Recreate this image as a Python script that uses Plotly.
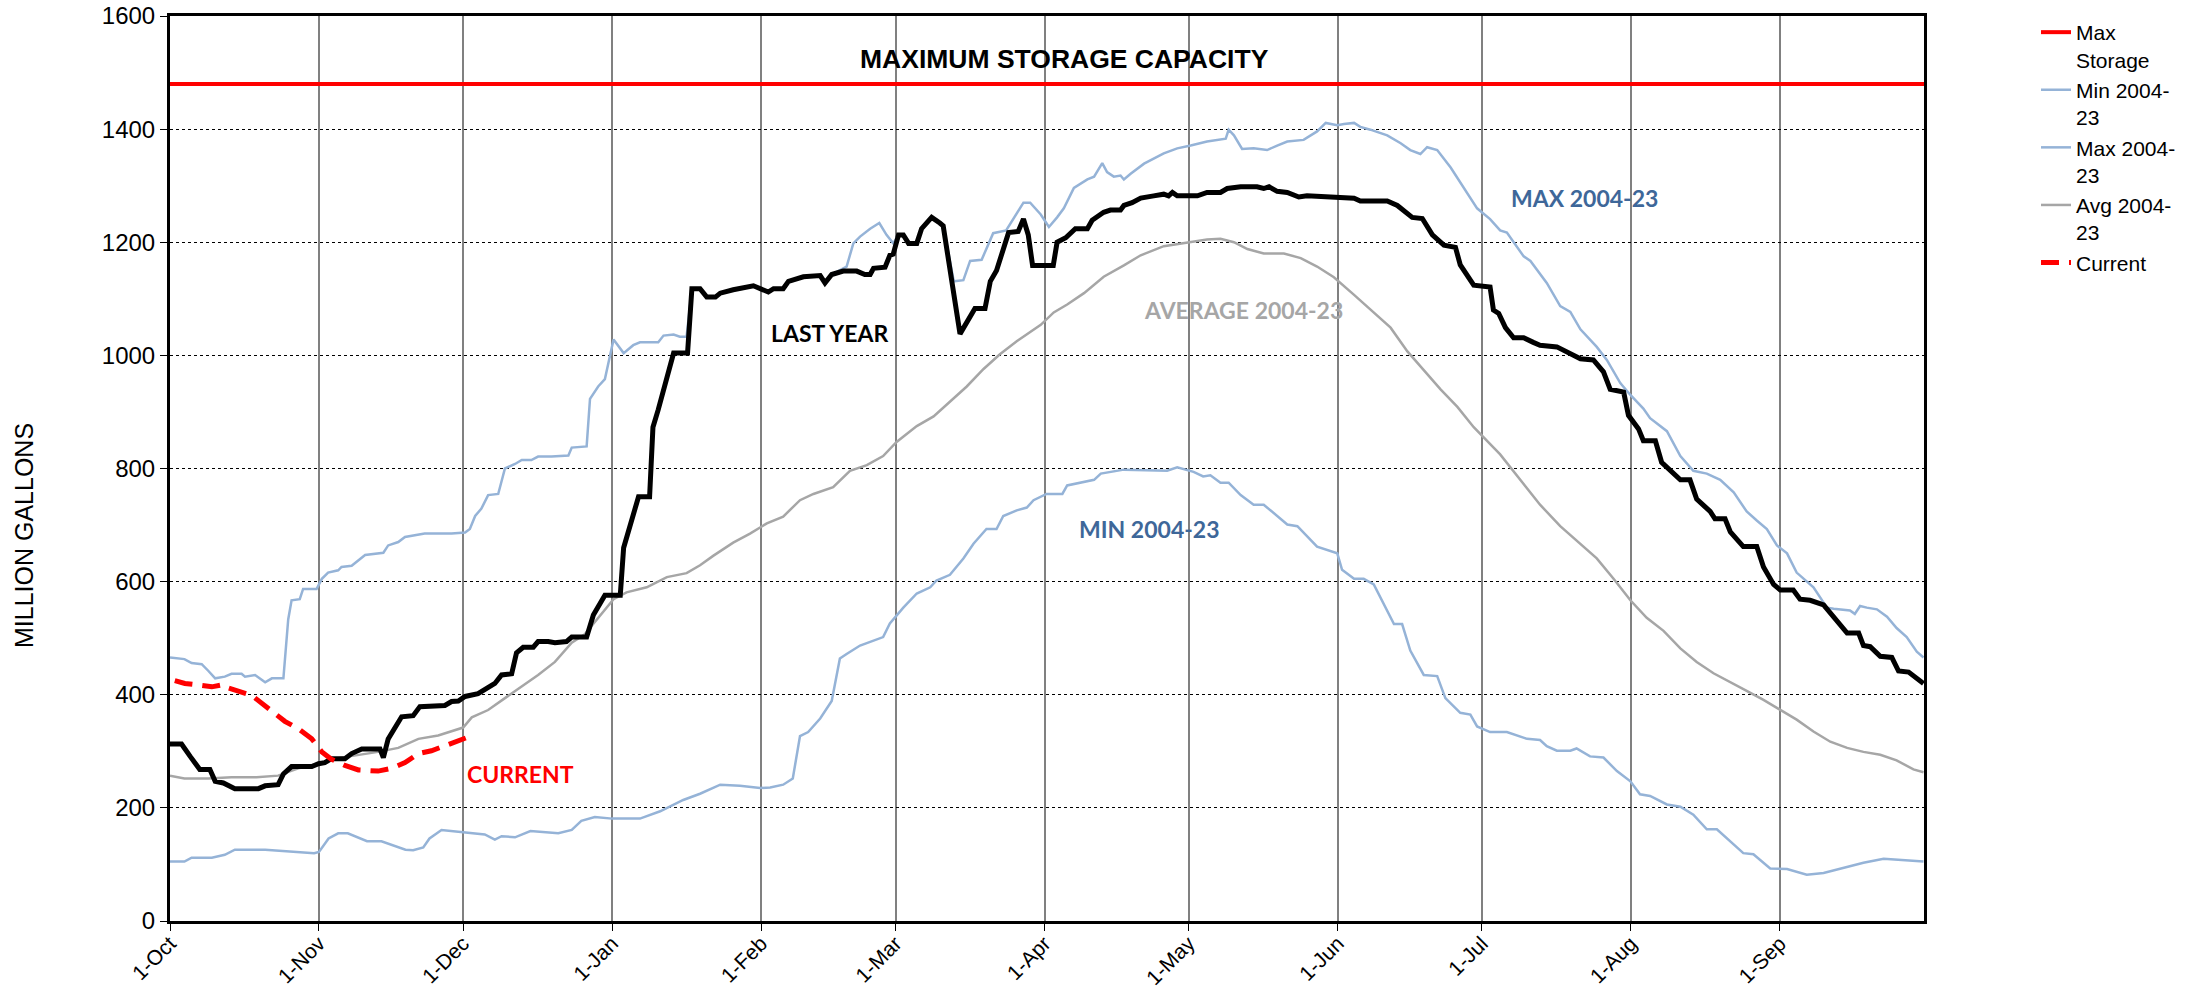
import plotly.graph_objects as go

# x positions are days since 1-Oct (water year)
month_days = [0, 31, 61, 92, 123, 151, 182, 212, 243, 273, 304, 335]
month_labels = ["1-Oct", "1-Nov", "1-Dec", "1-Jan", "1-Feb", "1-Mar", "1-Apr",
                "1-May", "1-Jun", "1-Jul", "1-Aug", "1-Sep"]

max_storage = 1480

min_pts = [(0,105),(3,105),(4.5,112),(8.7,112),(11.4,117),(13.5,126),(19.8,126),(24.6,123),(30,120),(31,122),
 (33,146),(35,155),(37,155),(41,141),(44,141),(49,126),(50.6,125),(52.7,130),(54,146),(56.5,161),(61,157),
 (65.5,153),(67.6,144),(69,150),(71.8,148),(75,159),(80.8,155),(83.6,161),(85.6,177),(88.4,184),(92,181),
 (97.8,181),(102,194),(106.8,214),(110.3,225),(114.5,241),(118.6,239),(122.8,235),(124.9,236),(127.6,241),
 (129.6,252),(131.1,327),(132.8,334),(135.3,358),(137.7,389),(139.4,464),(140.8,472),(143.6,487),(148.4,502),
 (149.8,526),(152.6,554),(155.4,579),(158.2,590),(159.5,602),(162.3,612),(165.1,641),(167.2,667),(169.9,693),
 (172,693),(173.4,716),(176.2,726),(178.3,731),(179.7,744),(182.4,755),(185.7,755),(186.7,770),(192.3,780),
 (193.7,791),(198.5,798),(207.5,796),(209.6,802),(213,794),(215,786),(216.5,788),(218.6,775),(220.3,775),
 (222.8,753),(225.5,736),(227.6,736),(232.5,701),(234.6,698),(238.7,662),(242.9,650),(243.9,621),(246.4,605),
 (248.4,605),(250.5,595),(252.6,559),(254.7,525),(256.4,525),(258.1,478),(260.9,435),(263.7,433),(265.4,394),
 (268.5,368),(270.6,365),(272,344),(274.7,334),(278.2,334),(282.4,322),(285.1,320),(286.5,309),(288.6,301),
 (291.4,301),(292.7,305),(295.5,291),(298.3,289),(301.1,265),(303.9,247),(305.9,224),(308,221),(311.5,206),
 (314.3,202),(317,188),(319.8,162),(321.9,162),(324.7,141),(327.4,120),(329.5,118),(333,93),(336.5,92),
 (340.6,82),(344.1,85),(349,95),(352.4,103),(356.6,110),(360,108),(364.9,105)]

max_pts = [(0,466),(3,463),(4.5,456),(6.6,454),(8,442),(9.4,429),(11.4,432),(12.8,437),(14.9,437),(15.6,432),
 (17.7,435),(19.8,422),(21.2,429),(23.6,429),(24.6,533),(25.3,567),(27,569),(27.7,587),(30.5,587),(31.6,605),
 (32.9,616),(35,620),(35.7,626),(37.8,628),(40.6,647),(44.4,651),(45.4,664),(47.5,670),(48.9,679),(51.7,683),
 (53,685),(58.6,685),(61.4,687),(62.4,693),(63.5,716),(64.8,729),(66.2,753),(68.3,755),(69.7,800),(71.8,808),
 (73.2,815),(75.2,815),(76.6,821),(79.4,821),(82.9,823),(83.6,837),(86.7,839),(87.4,923),(89.1,945),(90.5,958),
 (92.3,1028),(94.4,1004),(96.4,1018),(97.8,1023),(101.6,1023),(102.7,1035),(104.8,1037),(106.1,1033),(107.5,1033),
 (108.6,1118),(110.3,1118),(111.7,1103),(113.5,1103),(114.5,1110),(117.2,1116),(118.6,1119),(121.4,1123),
 (124.5,1112),(125.6,1118),(127.6,1118),(128.7,1131),(131.8,1139),(135.3,1141),(136.3,1128),(137.7,1143),
 (140.8,1157),(142.2,1198),(143.6,1210),(145.7,1224),(147.6,1234),(149.1,1213),(150.5,1198),(151.6,1213),
 (152.6,1213),(153.7,1198),(155.4,1198),(156.4,1224),(158.5,1244),(160.2,1234),(160.9,1229),(163.1,1131),
 (165.1,1133),(166.5,1167),(168.9,1169),(171.3,1216),(174,1221),(177.6,1270),(179,1270),(181.2,1249),
 (182.9,1227),(184.6,1244),(186,1260),(188.1,1296),(190.9,1311),(192.3,1316),(194,1340),(195,1324),(196.4,1316),
 (197.8,1318),(198.5,1311),(199.9,1321),(202.7,1339),(206.8,1357),(209.6,1366),(212.4,1371),(215.8,1378),
 (219.7,1383),(220.3,1399),(221.4,1389),(223.1,1365),(225.5,1366),(228.3,1363),(230.4,1371),(232.5,1378),
 (235.9,1381),(238.7,1396),(240.5,1411),(242.9,1407),(244.3,1409),(246.4,1411),(247.7,1404),(249.8,1399),
 (253.3,1389),(256.1,1375),(258.1,1363),(260.2,1356),(261.6,1368),(263.7,1363),(266.5,1332),(269.2,1296),
 (272,1260),(274.7,1241),(276.8,1221),(278.2,1217),(281.7,1175),(283.1,1167),(286.5,1128),(289.3,1087),
 (291.4,1077),(293.5,1046),(296.9,1015),(299,992),(301.8,951),(303.9,930),(306.6,906),(308,889),(311.5,866),
 (314.3,822),(317,796),(319.8,791),(322.6,780),(325.4,758),(328.1,724),(330.2,708),(332.3,693),(334.4,664),
 (336.5,650),(338.5,616),(342,590),(344.8,554),(346.2,552),(349.6,549),(350.6,543),(351.7,557),(353.1,554),
 (355.2,551),(357.3,538),(359.3,518),(361.4,502),(363.5,476),(364.9,466)]

avg_pts = [(0,257),(3,252),(8,252),(12.8,254),(18,254),(22.5,257),(26.7,270),(30.9,278),(35,288),(39.2,293),
 (43.3,299),(47.5,306),(51.7,322),(55.8,328),(58.6,335),(61,342),(62.8,360),(66.2,373),(69.7,394),(73.2,414),
 (76.6,435),(80.1,458),(83.6,492),(86.3,507),(89.1,535),(92.3,569),(95,581),(99.2,590),(103.4,608),(107.5,615),
 (110.3,629),(113.1,646),(117.2,669),(120.7,685),(124.2,703),(127.6,715),(131.1,744),(133.9,755),(138,767),
 (141.5,796),(145,806),(148.4,822),(151.2,847),(155.4,875),(158.9,892),(162.3,918),(165.8,945),(169.3,976),
 (172.7,1002),(176.2,1025),(179.7,1045),(181.2,1054),(183.9,1076),(186.7,1090),(190.2,1110),(194.3,1139),
 (198.5,1159),(202,1177),(206.8,1193),(211.7,1200),(215.8,1205),(218.6,1206),(221.4,1200),(224.2,1188),
 (227.6,1180),(231.8,1180),(235.3,1172),(238.7,1157),(242.2,1138),(246.4,1107),(250.5,1076),(254,1049),
 (257.5,1007),(260.9,973),(264.4,940),(267.9,909),(271.3,873),(276.8,825),(281,780),(285.1,736),(289.3,698),
 (293.5,667),(296.9,641),(300.4,605),(303.9,567),(307.3,536),(310.8,513),(314.3,482),(317.7,458),(321.2,438),
 (324.7,423),(328.1,407),(331.6,391),(335.1,373),(338.5,356),(342,335),(345.5,317),(349,306),(352.4,299),
 (355.9,294),(359.3,284),(362.8,268),(364.9,263)]

last_year_pts = [(0,313),(2.4,313),(4.2,291),(6.2,268),(8.3,268),(9.4,247),(11.1,244),(13.5,234),(18.4,234),
 (19.8,239),(22.5,241),(23.6,260),(25.3,273),(29.5,273),(30.9,278),(32.2,280),(33.6,287),(36.4,287),(37.8,296),
 (39.9,304),(43.7,304),(44.4,289),(45.4,322),(46.8,340),(48.2,361),(50.6,363),(52,379),(57.2,381),(58.6,388),
 (60,389),(61.4,397),(64.1,402),(65.5,410),(67.6,420),(69,435),(71.1,437),(72.1,474),(73.5,484),(75.6,484),
 (76.6,494),(78.7,494),(80.1,492),(82.5,494),(83.6,502),(86.7,502),(88.1,541),(90.5,576),(93.7,576),(94.4,660),
 (95.7,698),(97.5,750),(99.8,750),(100.5,873),(101.6,904),(103,945),(104.8,1004),(107.7,1004),(108.6,1118),
 (110.3,1118),(111.7,1103),(113.5,1103),(114.5,1110),(117.2,1116),(118.6,1119),(121.4,1123),(124.5,1112),
 (125.6,1118),(127.6,1118),(128.7,1131),(131.8,1139),(135.3,1141),(136.3,1128),(137.7,1143),(140.1,1149),
 (142.9,1149),(144.6,1143),(145.7,1143),(146.4,1154),(148.8,1156),(149.8,1177),(150.5,1179),(151.6,1213),
 (152.6,1213),(153.7,1198),(155.4,1198),(156.4,1224),(158.5,1244),(160.2,1234),(160.9,1229),(164.4,1038),
 (167.5,1083),(169.6,1083),(170.7,1131),(172,1150),(174.5,1217),(176.5,1219),(177.6,1241),(178.6,1213),
 (179.5,1159),(183.8,1159),(184.6,1200),(186.4,1208),(188.4,1224),(190.9,1224),(191.9,1239),(194.3,1253),
 (195.7,1257),(197.8,1257),(198.5,1265),(200.2,1270),(202,1278),(204.7,1282),(206.8,1285),(207.8,1282),
 (208.6,1288),(209.6,1282),(213.8,1282),(215.8,1288),(218.6,1288),(220,1295),(222.8,1298),(226.2,1298),
 (227.6,1295),(228.7,1298),(230.4,1290),(232.5,1288),(234.9,1280),(236.6,1282),(240.8,1280),(246.4,1278),
 (247.7,1273),(253.3,1273),(255.4,1265),(258.5,1244),(260.6,1242),(262.7,1213),(265.1,1195),(267.5,1191),
 (268.5,1160),(271.3,1124),(274.7,1121),(275.4,1080),(276.5,1074),(277.9,1049),(279.6,1031),(281.7,1031),
 (283.7,1023),(285.1,1018),(288.6,1015),(291.4,1002),(293.5,994),(296.2,992),(298.3,971),(299.7,940),
 (302.5,935),(303.5,894),(305.6,870),(306.6,849),(309.1,849),(310.4,811),(312.9,791),(314.3,780),(316.3,780),
 (317.7,746),(320.5,724),(321.5,711),(323.6,711),(324.7,688),(327.4,662),(330.2,662),(331.6,626),(333.7,595),
 (335.1,585),(337.8,585),(339.2,569),(341.3,567),(344.1,559),(346.2,538),(349,509),(351.4,509),(352.4,487),
 (353.8,485),(354.8,476),(355.9,468),(358.3,466),(359.7,442),(361.8,440),(363.5,430),(364.9,420)]

current_pts = [(1,425),(3.1,420),(5.2,418),(8.7,414),(11.1,418),(12.1,412),(17,399),(19.8,380),(23.9,353),
 (26.7,340),(29.5,322),(31.6,299),(33.6,286),(36.4,275),(39.2,267),(43.3,265),(46.1,270),(48.9,280),
 (51.7,296),(54.4,301),(57.9,313),(61.7,324)]


def xs(p):
    return [a for a, _ in p]


def ys(p):
    return [b for _, b in p]


BLUE = "#95B3D7"
GRAY = "#A6A6A6"
RED = "#FF0000"
LABEL_BLUE = "#3E6799"
FONT = "Arial, 'Liberation Sans', sans-serif"

# plot area spans page px x 170..1924, y 16..921
PW, PH = 1754, 905


def px(x):
    return (x - 170) / PW


def py(y):
    return (921 - y) / PH


fig = go.Figure()
fig.add_trace(go.Scatter(x=[0, 365], y=[max_storage, max_storage], mode="lines",
                         name="Max<br>Storage", line=dict(color=RED, width=4)))
fig.add_trace(go.Scatter(x=xs(min_pts), y=ys(min_pts), mode="lines",
                         name="Min 2004-<br>23", line=dict(color=BLUE, width=2.5)))
fig.add_trace(go.Scatter(x=xs(max_pts), y=ys(max_pts), mode="lines",
                         name="Max 2004-<br>23", line=dict(color=BLUE, width=2.5)))
fig.add_trace(go.Scatter(x=xs(avg_pts), y=ys(avg_pts), mode="lines",
                         name="Avg 2004-<br>23", line=dict(color=GRAY, width=2.5)))
fig.add_trace(go.Scatter(x=xs(last_year_pts), y=ys(last_year_pts), mode="lines",
                         name="Last Year", showlegend=False,
                         line=dict(color="black", width=5)))
fig.add_trace(go.Scatter(x=xs(current_pts), y=ys(current_pts), mode="lines",
                         name="Current", line=dict(color=RED, width=5, dash="18px,10px")))

annots = [
    dict(text="<b>MAXIMUM STORAGE CAPACITY</b>", x=px(1064), y=py(59),
         font=dict(family=FONT, size=26.5, color="black")),
    dict(text="<b>LAST YEAR</b>", x=px(829), y=py(333),
         font=dict(family="Lato", size=23, color="black")),
    dict(text="<b>AVERAGE 2004-23</b>", x=px(1243), y=py(310),
         font=dict(family="Lato", size=23, color=GRAY)),
    dict(text="<b>MAX 2004-23</b>", x=px(1584), y=py(198),
         font=dict(family="Lato", size=23, color=LABEL_BLUE)),
    dict(text="<b>MIN 2004-23</b>", x=px(1149), y=py(529),
         font=dict(family="Lato", size=23, color=LABEL_BLUE)),
    dict(text="<b>CURRENT</b>", x=px(520), y=py(774),
         font=dict(family="Lato", size=23, color=RED)),
    dict(text="MILLION GALLONS", x=px(24), y=py(536), textangle=-90,
         font=dict(family=FONT, size=25, color="black")),
]
for a in annots:
    a.update(xref="paper", yref="paper", showarrow=False, xanchor="center", yanchor="middle")

fig.update_layout(
    width=2204, height=997,
    margin=dict(l=170, r=280, t=16, b=76, autoexpand=False),
    paper_bgcolor="white", plot_bgcolor="white",
    font=dict(family=FONT, size=22, color="black"),
    annotations=annots,
    showlegend=True,
    legend=dict(x=px(2036), xanchor="left", y=py(12), yanchor="top",
                font=dict(family=FONT, size=21, color="black"),
                bgcolor="rgba(0,0,0,0)", valign="top", tracegroupgap=0),
)
fig.update_xaxes(range=[0, 365], tickmode="array", tickvals=month_days, ticktext=month_labels,
                 tickangle=-45, showgrid=True, gridcolor="#808080", gridwidth=2,
                 ticks="outside", ticklen=7, tickcolor="black", tickwidth=1,
                 showline=True, linecolor="black", linewidth=3, mirror=True, zeroline=False,
                 automargin=False, ticklabeloverflow="allow", ticklabelstandoff=-8,
                 tickfont=dict(family=FONT, size=21, color="black"))
fig.update_yaxes(range=[0, 1600], dtick=200, showgrid=True, gridcolor="black", gridwidth=1,
                 griddash="dot", ticks="outside", ticklen=7, tickcolor="black",
                 showline=True, linecolor="black", linewidth=3, mirror=True, zeroline=False,
                 automargin=False, ticklabeloverflow="allow",
                 tickfont=dict(family=FONT, size=24, color="black"))

# remove the default 8px page margin so the figure fills the window exactly
fig.write_html("out.html", config={"displayModeBar": False},
               post_script="document.body.style.margin='0px';")
